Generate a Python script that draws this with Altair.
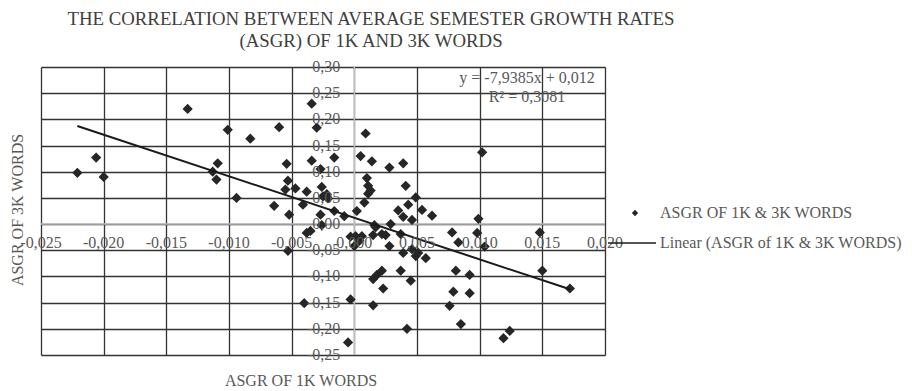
import altair as alt
import pandas as pd

# Average semester growth rates (ASGR): 1K words (x) vs 3K words (y)
asgr_1k = [
    -0.0221, -0.0206, -0.0200, -0.0133, -0.0113, -0.0109, -0.0110, -0.0101, -0.0094, -0.0083,
    -0.0060, -0.0064, -0.0054, -0.0053, -0.0055, -0.0047, -0.0052, -0.0041, -0.0038, -0.0034,
    -0.0030, -0.0034, -0.0016, -0.0027, -0.0026, -0.0025, -0.0022, -0.0021, -0.0038, -0.0035,
    -0.0053, -0.0040, -0.0005, -0.0003, -0.0027, -0.0026, -0.0016, -0.0008, 0.0002, 0.0005,
    0.0014, 0.0009, 0.0028, 0.0039, 0.0010, 0.0011, 0.0013, 0.0011, 0.0008, 0.0041,
    0.0049, 0.0043, 0.0035, 0.0054, 0.0062, 0.0039, 0.0046, 0.0029, 0.0016, 0.0102,
    0.0099, -0.0003, 0.0001, 0.0006, 0.0000, 0.0004, 0.0015, 0.0017, 0.0022, 0.0025,
    0.0028, 0.0037, 0.0039, 0.0046, 0.0049, 0.0051, 0.0057, 0.0022, 0.0037, 0.0045,
    0.0023, 0.0015, 0.0018, 0.0015, 0.0042, 0.0078, 0.0083, 0.0081, 0.0079, 0.0076,
    0.0085, 0.0092, 0.0092, 0.0098, 0.0104, 0.0119, 0.0124, 0.0148, 0.0150, 0.0172,
]
asgr_3k = [
    0.098, 0.127, 0.090, 0.220, 0.100, 0.116, 0.085, 0.180, 0.050, 0.163,
    0.185, 0.035, 0.115, 0.083, 0.066, 0.068, 0.018, 0.037, 0.062, 0.230,
    0.184, 0.121, 0.127, 0.105, 0.071, 0.053, 0.057, 0.049, -0.017, -0.013,
    -0.051, -0.151, -0.226, -0.144, 0.018, -0.002, 0.025, 0.015, 0.025, 0.130,
    0.120, 0.173, 0.108, 0.116, 0.088, 0.073, 0.064, 0.058, 0.041, 0.073,
    0.051, 0.037, 0.026, 0.027, 0.016, 0.014, 0.008, 0.000, -0.002, 0.137,
    0.010, -0.024, -0.023, -0.023, -0.042, -0.032, -0.021, -0.006, -0.019, -0.021,
    -0.042, -0.019, -0.055, -0.048, -0.061, -0.055, -0.065, -0.089, -0.089, -0.108,
    -0.123, -0.105, -0.097, -0.155, -0.200, -0.016, -0.035, -0.089, -0.129, -0.156,
    -0.191, -0.097, -0.132, -0.017, -0.043, -0.218, -0.204, -0.016, -0.089, -0.123,
]

# Linear trend: y = slope * x + intercept
slope = -7.9385
intercept = 0.012
r_squared = 0.3081

series_points = "ASGR OF 1K & 3K WORDS"
series_trend = "Linear (ASGR of 1K & 3K WORDS)"

x_ticks = [i / 1000 for i in range(-25, 21, 5)]
y_ticks = [i / 100 for i in range(-25, 31, 5)]
x_dom = [x_ticks[0], x_ticks[-1]]
y_dom = [y_ticks[0], y_ticks[-1]]

W, H = 564, 288
FONT = "Liberation Serif"
INK = "#262626"
GRID = "#333333"
ZERO = "#bfbfbf"
LABEL = "#595959"


def comma(v, digits):
    return f"{v:.{digits}f}".replace(".", ",")


pts = pd.DataFrame({"x": asgr_1k, "y": asgr_3k, "series": series_points})
x_lo, x_hi = min(asgr_1k), max(asgr_1k)
trend = pd.DataFrame({
    "x": [x_lo, x_hi],
    "y": [slope * x_lo + intercept, slope * x_hi + intercept],
    "series": series_trend,
})
x_lab = pd.DataFrame({"x": x_ticks, "y": 0.0, "t": [comma(v, 3) for v in x_ticks]})
y_lab = pd.DataFrame({"x": 0.0, "y": y_ticks, "t": [comma(v, 2) for v in y_ticks]})
zero_df = pd.DataFrame({"x": [0.0], "y": [0.0]})

equation = f"y = {comma(slope, 4)}x + {comma(intercept, 3)}\nR² = {comma(r_squared, 4)}"

xs = alt.Scale(domain=x_dom, nice=False, zero=False)
ys = alt.Scale(domain=y_dom, nice=False, zero=False)

# plain axes supply the gridlines only; labels sit on the zero lines
grid_axis = dict(grid=True, gridColor=GRID, gridWidth=1.3, labels=False, ticks=False, domain=False, title=None)
x_enc = alt.X("x:Q", scale=xs, axis=alt.Axis(values=x_ticks, **grid_axis))
y_enc = alt.Y("y:Q", scale=ys, axis=alt.Axis(values=y_ticks, **grid_axis))

zero_v = alt.Chart(zero_df).mark_rule(color=ZERO, strokeWidth=1.5).encode(x=x_enc)
zero_h = alt.Chart(zero_df).mark_rule(color=ZERO, strokeWidth=1.5).encode(y=y_enc)

text_style = dict(font=FONT, fontSize=16, color=LABEL)
x_labels = alt.Chart(x_lab).mark_text(align="center", baseline="middle", dy=19, **text_style).encode(
    x=x_enc, y=y_enc, text="t:N"
)
y_labels = alt.Chart(y_lab).mark_text(align="right", baseline="middle", dx=-14, **text_style).encode(
    x=x_enc, y=y_enc, text="t:N"
)

points = alt.Chart(pts).mark_point(filled=True, opacity=1, size=105, color=INK).encode(
    x=x_enc,
    y=y_enc,
    shape=alt.Shape(
        "series:N",
        scale=alt.Scale(domain=[series_points], range=["diamond"]),
        legend=alt.Legend(
            title=None,
            orient="none",
            legendX=586,
            legendY=138,
            padding=0,
            symbolSize=40,
            symbolFillColor=INK,
            symbolStrokeWidth=0,
            labelOffset=17,
            labelLimit=400,
            labelFont=FONT,
            labelFontSize=16,
            labelColor=LABEL,
        ),
    ),
)

trend_line = alt.Chart(trend).mark_line(strokeWidth=2).encode(
    x=x_enc,
    y=y_enc,
    color=alt.Color(
        "series:N",
        scale=alt.Scale(domain=[series_trend], range=["#1a1a1a"]),
        legend=alt.Legend(
            title=None,
            orient="none",
            legendX=566,
            legendY=151,
            padding=0,
            symbolType="stroke",
            symbolSize=2304,
            symbolStrokeWidth=1.5,
            labelOffset=3,
            labelLimit=400,
            labelFont=FONT,
            labelFontSize=16,
            labelColor=LABEL,
        ),
    ),
)

eq_text = alt.Chart(pd.DataFrame({"t": [equation]})).mark_text(
    align="center", baseline="top", lineBreak="\n", lineHeight=19, **text_style
).encode(text="t:N", x=alt.value(486), y=alt.value(3))

x_title = alt.Chart(pd.DataFrame({"t": ["ASGR OF 1K WORDS"]})).mark_text(
    align="center", baseline="middle", **text_style
).encode(text="t:N", x=alt.value(260), y=alt.value(314))

y_title = alt.Chart(pd.DataFrame({"t": ["ASGR OF 3K WORDS"]})).mark_text(
    align="center", baseline="middle", angle=270, **text_style
).encode(text="t:N", x=alt.value(-23), y=alt.value(143))

chart = (
    alt.layer(zero_v, zero_h, points, trend_line, x_labels, y_labels, eq_text, x_title, y_title)
    .properties(
        width=W,
        height=H,
        autosize=alt.AutoSizeParams(type="none"),
        padding={"left": 41, "top": 67, "right": 912 - 41 - W, "bottom": 391 - 67 - H},
        title=alt.TitleParams(
            text=["THE CORRELATION BETWEEN AVERAGE SEMESTER GROWTH RATES", "(ASGR) OF 1K AND 3K WORDS"],
            font=FONT,
            fontSize=18.8,
            fontWeight="normal",
            color="#404040",
            anchor="middle",
            frame="group",
            dx=48,
            lineHeight=22,
            offset=8,
        ),
    )
    .resolve_scale(shape="independent", color="independent")
    .configure_view(stroke=None)
    .configure(background="white")
)

chart.save("out.html", embed_options={"renderer": "svg", "actions": False})
